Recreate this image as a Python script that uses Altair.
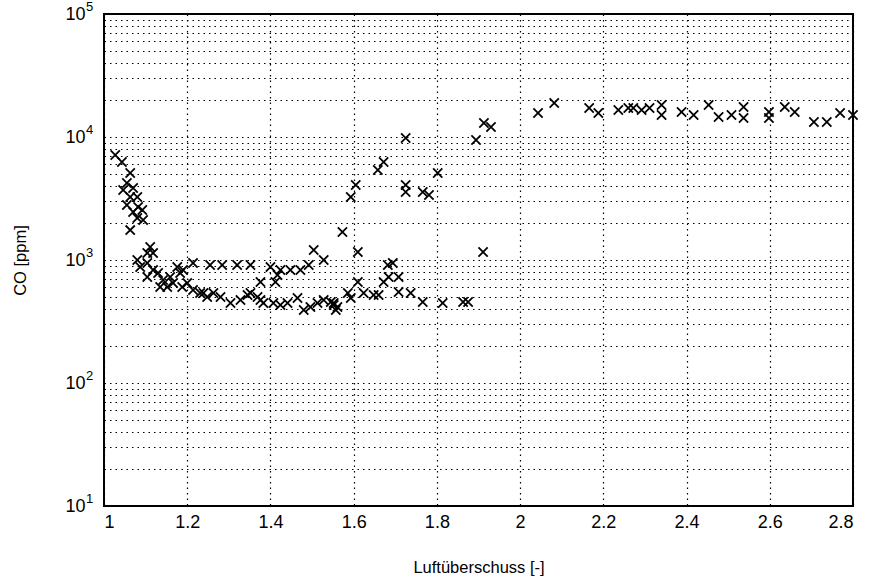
import altair as alt
import pandas as pd

# Air excess ratio (Luftüberschuss) and CO concentration [ppm]
lambda_vals = [
    1.027, 1.043, 1.063, 1.055, 1.046, 1.070, 1.063, 1.080, 1.055, 1.082,
    1.070, 1.092, 1.080, 1.094, 1.063, 1.111, 1.104, 1.118, 1.080, 1.087,
    1.104, 1.118, 1.130, 1.104, 1.142, 1.159, 1.176, 1.183, 1.166, 1.188,
    1.152, 1.135, 1.190, 1.200, 1.214, 1.214, 1.255, 1.284, 1.320, 1.352,
    1.400, 1.424, 1.448, 1.472, 1.492, 1.504, 1.528, 1.412, 1.376, 1.417,
    1.239, 1.263, 1.280, 1.304, 1.328, 1.352, 1.369, 1.376, 1.383, 1.407,
    1.424, 1.441, 1.465, 1.480, 1.496, 1.513, 1.528, 1.552, 1.561, 1.545,
    1.231, 1.248, 1.345, 1.552, 1.557, 1.586, 1.593, 1.610, 1.610, 1.573,
    1.593, 1.605, 1.624, 1.648, 1.660, 1.672, 1.684, 1.682, 1.694, 1.708,
    1.708, 1.737, 1.766, 1.814, 1.863, 1.875, 1.911, 1.672, 1.658, 1.725,
    1.725, 1.725, 1.766, 1.781, 1.802, 1.894, 1.913, 1.930, 2.043, 2.082,
    2.166, 2.188, 2.236, 2.260, 2.272, 2.292, 2.311, 2.340, 2.340, 2.388,
    2.417, 2.453, 2.477, 2.508, 2.537, 2.537, 2.598, 2.598, 2.636, 2.660,
    2.706, 2.737, 2.769, 2.800,
]
co_vals = [
    7140, 6260, 5100, 4230, 3710, 3850, 3250, 3250, 2800, 2700,
    2455, 2550, 2195, 2115, 1750, 1275, 1140, 1140, 1000, 877,
    945, 830, 784, 728, 688, 728, 877, 784, 650, 603,
    603, 603, 830, 650, 570, 945, 910, 910, 910, 910,
    877, 830, 830, 830, 910, 1205, 1000, 662, 662, 755,
    539, 539, 500, 447, 473, 539, 500, 473, 447, 447,
    431, 447, 491, 392, 415, 447, 473, 447, 415, 456,
    539, 500, 519, 431, 392, 539, 491, 662, 1160, 1690,
    3250, 4070, 539, 519, 519, 662, 728, 910, 945, 728,
    550, 539, 456, 447, 456, 456, 1160, 6260, 5390, 9820,
    4070, 3570, 3570, 3375, 5100, 9460, 13000, 12060, 15670, 18900,
    17200, 15670, 16600, 17200, 17200, 16600, 17200, 18200, 15100, 15970,
    15100, 18200, 14550, 15100, 17540, 14270, 15970, 14270, 17540, 15970,
    13240, 13240, 15670, 15100,
]

x_ticks = [1, 1.2, 1.4, 1.6, 1.8, 2, 2.2, 2.4, 2.6, 2.8]
y_grid = [m * 10 ** k for k in range(1, 5) for m in range(1, 10)] + [100000]
decade_vals = [10, 100, 1000, 10000, 100000]
decade_exps = ["1", "2", "3", "4", "5"]

df = pd.DataFrame({"lam": lambda_vals, "co": co_vals})
exp_df = pd.DataFrame({"co": decade_vals, "exp": decade_exps})

FONT = "Liberation Sans"
X_SHAPE = "M-1,-1L1,1M-1,1L1,-1"

y_label_expr = "indexof([10,100,1000,10000,100000], datum.value) >= 0 ? '10' : ''"

y_scale = alt.Scale(type="log", domain=[10, 100000], nice=False)

points = alt.Chart(df).mark_point(
    shape=X_SHAPE, filled=False, color="black", size=85, strokeWidth=1.8, opacity=1
).encode(
    x=alt.X(
        "lam:Q",
        scale=alt.Scale(domain=[1, 2.8], nice=False, zero=False),
        axis=alt.Axis(
            values=x_ticks, format="~g", title="Luftüberschuss [-]",
            grid=True, gridColor="black", gridDash=[1.5, 4], gridWidth=1.2, gridOpacity=1,
            ticks=False, domain=False, labelPadding=7, labelFontSize=18,
            labelFont=FONT, labelColor="black", titleFont=FONT, titleFontSize=16.5,
            titleFontWeight="normal", titleColor="black", titleY=61,
            titleBaseline="middle", labelOverlap=False,
        ),
    ),
    y=alt.Y(
        "co:Q",
        scale=y_scale,
        axis=alt.Axis(
            values=y_grid, labelExpr=y_label_expr, title="CO [ppm]",
            grid=True, gridColor="black", gridDash=[1.5, 4], gridWidth=1.2, gridOpacity=1,
            ticks=False, domain=False, labelPadding=19, labelFontSize=18,
            labelFont=FONT, labelColor="black", titleFont=FONT, titleFontSize=16.5,
            titleFontWeight="normal", titleColor="black", titleX=-84, titleY=246,
            titleBaseline="middle", labelOverlap=False,
        ),
    ),
)

exponents = alt.Chart(exp_df).mark_text(
    align="left", baseline="middle", font=FONT, fontSize=13, color="black", dy=-7
).encode(
    x=alt.value(-18),
    y=alt.Y("co:Q", scale=y_scale),
    text="exp:N",
)

chart = alt.layer(points, exponents).properties(
    width=749,
    height=492,
    padding={"left": 104, "top": 14, "right": 23, "bottom": 78},
    autosize=alt.AutoSizeParams(type="none"),
).configure(
    background="white",
    view=alt.ViewConfig(stroke="black", strokeWidth=2),
)

chart.save("out.html", embed_options={"renderer": "svg", "actions": False})
